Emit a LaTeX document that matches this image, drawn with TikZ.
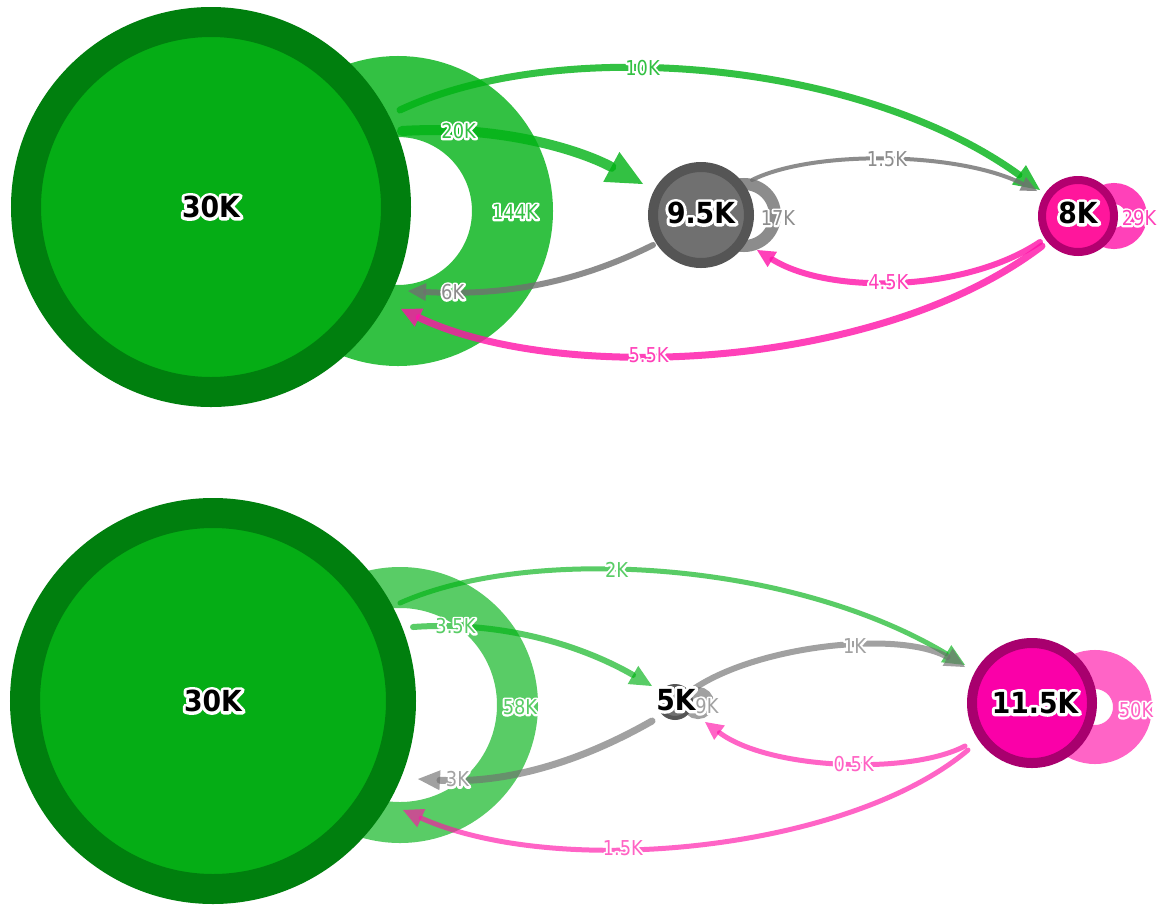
\documentclass[tikz,border=0pt]{standalone}
\usepackage{fontspec}
\setmainfont{DejaVu Sans}
\newfontfamily\edgefont{DejaVu Sans}[FakeStretch=0.87]
\newfontfamily\vertfont{DejaVu Sans Bold}[FakeStretch=0.92]
\usetikzlibrary{arrows.meta,calc}

\pgfdeclarelayer{bg}
\pgfsetlayers{bg,main}

% palette
\definecolor{gdark}{HTML}{007F0E}
\definecolor{gfill}{HTML}{05AD15}
\definecolor{gbase}{HTML}{00B214}
\definecolor{kdark}{HTML}{555555}
\definecolor{kfill}{HTML}{707070}
\definecolor{kbase}{HTML}{707070}
\definecolor{mbase}{HTML}{FF12A8}
\definecolor{mdarkA}{HTML}{B2006F}
\definecolor{mfillA}{HTML}{FF169C}
\definecolor{mdarkB}{HTML}{A8006E}
\definecolor{mfillB}{HTML}{FA00A8}
% label colours (base colours as they look over white)
\definecolor{gone}{HTML}{33C143}
\definecolor{gtwo}{HTML}{59CD66}
\definecolor{kone}{HTML}{8D8D8D}
\definecolor{ktwo}{HTML}{A2A2A2}
\definecolor{mone}{HTML}{FF41B9}
\definecolor{mtwo}{HTML}{FF63C4}

% text with a white outline: #1 outline width, #2 text colour, #3 text
\newcommand\halo[3]{%
  \rlap{\textcolor{white}{\special{pdf:literal direct 1 Tr #1 w 1 j 1 J}#3\special{pdf:literal direct 0 Tr}}}%
  \textcolor{#2}{#3}}

\tikzset{
  vert/.style={circle, draw, inner sep=0pt, outer sep=0pt},
  gvert/.style={vert, fill=gfill, draw=gdark, line width=30pt, minimum size=#1},
  kvert/.style={vert, fill=kfill, draw=kdark, minimum size=#1},
  vlabel/.style={inner sep=0pt, font=\vertfont\fontsize{29}{29}\selectfont},
  elabel/.style={inner sep=0pt, opacity=1, text opacity=1, font=\edgefont\fontsize{20.5}{20.5}\selectfont},
  upper/.style={opacity=0.8},
  lower/.style={opacity=0.65},
  flow/.style={line cap=round},
  tip/.style n args={2}{-{Triangle[length=#1pt,width=#2pt,line width=0pt]}},
}

\begin{document}
\begin{tikzpicture}[x=1pt, y=-1pt]
\useasboundingbox (0,0) rectangle (1171,906);
\begin{pgfonlayer}{bg}
  \fill[white] (0,0) rectangle (1171,906);
\end{pgfonlayer}

% ---------------- upper graph ----------------
\node[gvert=370pt] (A) at (211,207) {};
\node[kvert=96pt, line width=10pt] (B) at (701,215) {};
\node[vert, fill=mfillA, draw=mdarkA, line width=8pt, minimum size=72pt] (C) at (1078,216) {};

\begin{pgfonlayer}{bg}
  \draw[upper, draw=gbase, line width=81pt] ($(A.center)+(187,4)$) circle[radius=114.5pt];
  \draw[upper, draw=kbase, line width=12pt] ($(B.center)+(43,0)$) circle[radius=31pt];
  \draw[upper, draw=mbase, line width=21pt] ($(C.center)+(36,0)$) circle[radius=22.5pt];
\end{pgfonlayer}

% A -> C
\draw[flow, upper, draw=gbase, line width=7pt, tip={26}{24}]
  ($(A.center)+(189,-97)$) .. controls +(160,-75) and +(-180,-130) .. ($(C.center)+(-38,-26)$)
  node[elabel, pos=0.4] (lAC) {\halo{4}{gone}{10K}};
% A -> B
\draw[flow, upper, draw=gbase, line width=10pt, tip={36}{34}]
  ($(A.center)+(191,-76)$) .. controls +(98,-6) and +(-63,-34) .. ($(B.center)+(-58,-31)$)
  node[elabel, pos=0.2] (lAB) {\halo{4}{gone}{20K}};
% B -> A
\draw[flow, upper, draw=kbase, line width=6pt, tip={18}{18}]
  ($(B.center)+(-48,30)$) .. controls +(-80,40) and +(90,5) .. ($(A.center)+(197,84)$)
  node[elabel, pos=0.83] (lBA) {\halo{4}{kone}{6K}};
% B -> C
\draw[flow, upper, draw=kbase, line width=4pt, tip={16}{15}]
  ($(B.center)+(51,-35)$) .. controls +(60,-30) and +(-80,-40) .. ($(C.center)+(-41,-25)$)
  node[elabel, pos=0.5] (lBC) {\halo{4}{kone}{1.5K}};
% C -> B
\draw[flow, upper, draw=mbase, line width=6pt, tip={18}{18}]
  ($(C.center)+(-38,26)$) .. controls +(-75,50) and +(73,45) .. ($(B.center)+(56,35)$)
  node[elabel, pos=0.53] (lCB) {\halo{4}{mone}{4.5K}};
% C -> A
\draw[flow, upper, draw=mbase, line width=7pt, tip={20}{20}]
  ($(C.center)+(-36,30)$) .. controls +(-162,124) and +(159,76) .. ($(A.center)+(190,102)$)
  node[elabel, pos=0.6] (lCA) {\halo{4}{mone}{5.5K}};

\node[vlabel] (tA) at (A.center) {\halo{6}{black}{30K}};
\node[vlabel] (tB) at ($(B.center)+(0,-2)$) {\halo{6}{black}{9.5K}};
\node[vlabel] (tC) at ($(C.center)+(0,-3)$) {\halo{6}{black}{8K}};
\node[elabel] (lAA) at (515,212) {\halo{4}{gone}{144K}};
\node[elabel] (lBB) at (778,218) {\halo{4}{kone}{17K}};
\node[elabel] (lCC) at (1139,218) {\halo{4}{mone}{29K}};

% ---------------- lower graph ----------------
\node[gvert=376pt] (A2) at (213,701) {};
\node[kvert=32pt, line width=4pt] (B2) at (675,702) {};
\node[vert, fill=mfillB, draw=mdarkB, line width=10pt, minimum size=120pt] (C2) at (1032,703) {};

\begin{pgfonlayer}{bg}
  \draw[lower, draw=gbase, line width=41pt] ($(A2.center)+(187,4)$) circle[radius=117.5pt];
  \draw[lower, draw=kbase, line width=10pt] ($(B2.center)+(23,1)$) circle[radius=11pt];
  \draw[lower, draw=mbase, line width=39pt] ($(C2.center)+(63,4)$) circle[radius=37.5pt];
\end{pgfonlayer}

% A2 -> C2
\draw[flow, lower, draw=gbase, line width=5pt, tip={22}{20}]
  ($(A2.center)+(187,-98)$) .. controls +(130,-58) and +(-175,-105) .. ($(C2.center)+(-67,-38)$)
  node[elabel, pos=0.42] (lAC2) {\halo{4}{gtwo}{2K}};
% A2 -> B2
\draw[flow, lower, draw=gbase, line width=6pt, tip={22}{21}]
  ($(A2.center)+(200,-74)$) .. controls +(97,-7) and +(-62,-36) .. ($(B2.center)+(-23,-16)$)
  node[elabel, pos=0.15] (lAB2) {\halo{4}{gtwo}{3.5K}};
% B2 -> A2
\draw[flow, lower, draw=kbase, line width=7pt, tip={22}{20}]
  ($(B2.center)+(-23,19)$) .. controls +(-70,40) and +(90,5) .. ($(A2.center)+(205,78)$)
  node[elabel, pos=0.85] (lBA2) {\halo{4}{ktwo}{3K}};
% B2 -> C2
\draw[flow, lower, draw=kbase, line width=6pt, tip={20}{20}]
  ($(B2.center)+(20,-14)$) .. controls +(65,-43) and +(-65,-37) .. ($(C2.center)+(-67,-36)$)
  node[elabel, pos=0.58] (lBC2) {\halo{4}{ktwo}{1K}};
% C2 -> B2
\draw[flow, lower, draw=mbase, line width=5pt, tip={18}{18}]
  ($(C2.center)+(-67,43)$) .. controls +(-55,29) and +(65,48) .. ($(B2.center)+(30,20)$)
  node[elabel, pos=0.45] (lCB2) {\halo{4}{mtwo}{0.5K}};
% C2 -> A2
\draw[flow, lower, draw=mbase, line width=5pt, tip={20}{20}]
  ($(C2.center)+(-64,47)$) .. controls +(-118,100) and +(157,70) .. ($(A2.center)+(190,109)$)
  node[elabel, pos=0.62] (lCA2) {\halo{4}{mtwo}{1.5K}};

\node[vlabel] (tA2) at (A2.center) {\halo{6}{black}{30K}};
\node[vlabel] (tB2) at ($(B2.center)+(1,-2)$) {\halo{6}{black}{5K}};
\node[vlabel] (tC2) at ($(C2.center)+(3,0)$) {\halo{6}{black}{11.5K}};
\node[elabel] (lAA2) at (520,707) {\halo{4}{gtwo}{58K}};
\node[elabel] (lBB2) at (707,706) {\halo{4}{ktwo}{9K}};
\node[elabel] (lCC2) at (1136,710) {\halo{4}{mtwo}{50K}};
\end{tikzpicture}
\end{document}
